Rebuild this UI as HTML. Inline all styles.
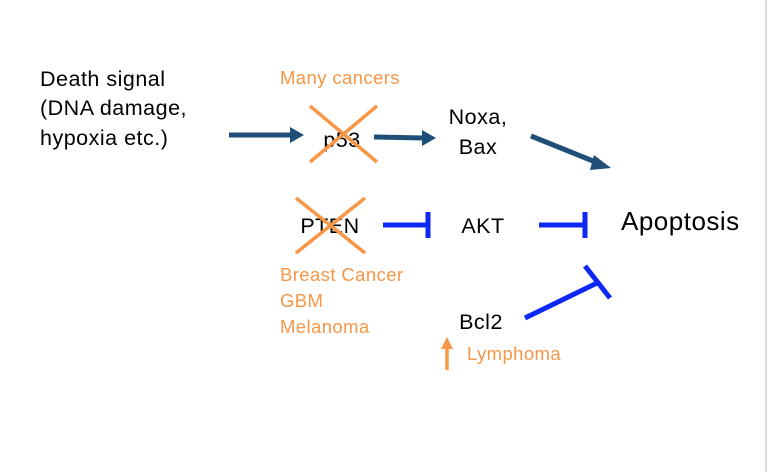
<!DOCTYPE html>
<html><head><style>
body{margin:0;background:#fff}
svg{display:block}
text{font-family:"Liberation Sans",sans-serif}
</style></head><body>
<svg width="768" height="472" viewBox="0 0 768 472" xmlns="http://www.w3.org/2000/svg">
<rect width="768" height="472" fill="#fff"/>
<line x1="766" y1="0" x2="766" y2="472" stroke="#d9d9d9" stroke-width="2"/>
<g font-size="21.5" fill="#000" letter-spacing="0.5">
<text x="40" y="86">Death signal</text>
<text x="40" y="115">(DNA damage,</text>
<text x="40" y="145">hypoxia etc.)</text>
<text x="342" y="147" text-anchor="middle">p53</text>
<text x="478" y="124" text-anchor="middle">Noxa,</text>
<text x="478" y="154" text-anchor="middle">Bax</text>
<text x="330" y="233" text-anchor="middle">PTEN</text>
<text x="483" y="233" text-anchor="middle">AKT</text>
<text x="481" y="329" text-anchor="middle">Bcl2</text>
<text x="621" y="230" font-size="26" letter-spacing="0.5">Apoptosis</text>
</g>
<g font-size="18.5" fill="#f79646" letter-spacing="0.4">
<text x="280" y="84">Many cancers</text>
<text x="280" y="281">Breast Cancer</text>
<text x="280" y="307">GBM</text>
<text x="280" y="333">Melanoma</text>
<text x="467" y="360">Lymphoma</text>
</g>
<g stroke="#f79646" stroke-width="3.5">
<line x1="310" y1="106" x2="377" y2="162"/><line x1="377" y1="106" x2="310" y2="162"/>
<line x1="296" y1="198" x2="365" y2="253"/><line x1="365" y1="198" x2="296" y2="253"/>
<line x1="447" y1="370" x2="447" y2="348"/>
</g>
<polygon points="441,349 453,349 447,337" fill="#f79646"/>
<g stroke="#1f4e79" stroke-width="5" fill="none">
<line x1="229" y1="135" x2="292" y2="135"/>
<line x1="374" y1="137" x2="424" y2="138"/>
<line x1="531" y1="136" x2="598" y2="163"/>
</g>
<g fill="#1f4e79">
<polygon points="290,127 304,135 290,143"/>
<polygon points="422,130 436,138 422,146"/>
<polygon points="594,155 611,168 590,170"/>
</g>
<g stroke="#0d27f5" stroke-width="5">
<line x1="383" y1="225" x2="428" y2="225"/><line x1="428" y1="212" x2="428" y2="238"/>
<line x1="539" y1="225" x2="585" y2="225"/><line x1="585" y1="212" x2="585" y2="238"/>
<line x1="525" y1="318" x2="597" y2="283"/><line x1="585" y1="266" x2="610" y2="298"/>
</g>
</svg>
</body></html>
